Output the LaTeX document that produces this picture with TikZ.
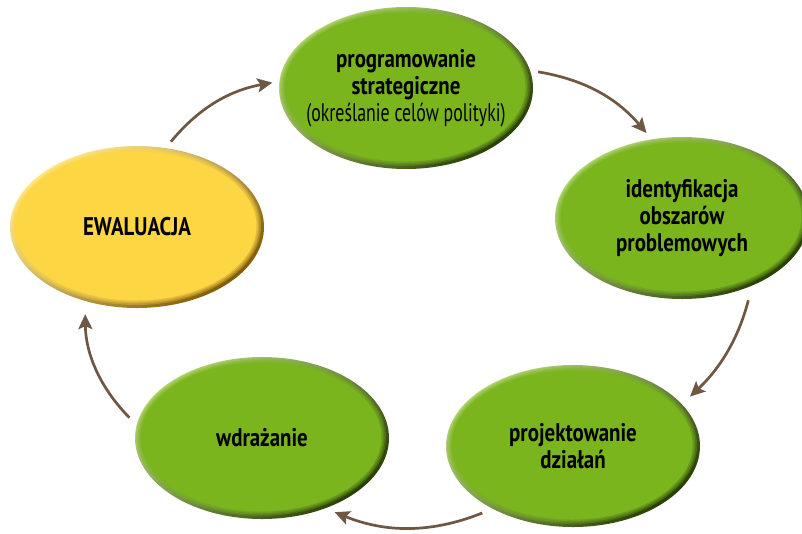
\documentclass[tikz,border=0pt]{standalone}
\usepackage{fontspec}
\setmainfont[FakeStretch=0.82]{PT Sans}
\newfontfamily\parfont[FakeStretch=0.70]{PT Sans}
\usetikzlibrary{shapes.geometric,arrows.meta}
\definecolor{gmain}{RGB}{122,181,30}
\definecolor{gdark}{RGB}{40,64,4}
\definecolor{glight}{RGB}{190,220,135}
\definecolor{ymain}{RGB}{253,214,68}
\definecolor{ydark}{RGB}{130,92,8}
\definecolor{ylight}{RGB}{254,238,160}
\definecolor{arr}{RGB}{110,88,68}
\tikzset{
  bubble/.style n args={3}{ellipse, minimum width=254pt, minimum height=162pt,
    inner sep=-30pt, align=center,
    font=\fontsize{25.5}{27}\selectfont\bfseries,
    top color=#2, bottom color=#3, shading angle=40,
    path picture={
      \fill[#1,opacity=0.3] ([xshift=-1pt,yshift=1pt]path picture bounding box.center) ellipse [x radius=125pt, y radius=79pt];
      \fill[#1,opacity=0.35] ([xshift=-1pt,yshift=1pt]path picture bounding box.center) ellipse [x radius=123.5pt, y radius=77.5pt];
      \fill[#1,opacity=0.45] ([xshift=-1pt,yshift=1pt]path picture bounding box.center) ellipse [x radius=122pt, y radius=76pt];
      \fill[#1] ([xshift=-1pt,yshift=1pt]path picture bounding box.center) ellipse [x radius=120.5pt, y radius=74.5pt];
    }},
  link/.style={draw=arr, line width=2.7pt,
    -{Stealth[length=15pt,width=14pt,inset=3pt]}}
}
\begin{document}
\begin{tikzpicture}[x=1pt,y=1pt]
\useasboundingbox (0,0) rectangle (802,-533);
\node[bubble={ymain}{ylight}{ydark}] (ewa) at (137,-227) {EWALUACJA};
\node[bubble={gmain}{glight}{gdark}] (prog) at (406,-88)
  {programowanie\\strategiczne\\{\parfont\mdseries(określanie celów polityki)}};
\node[bubble={gmain}{glight}{gdark}] (ident) at (682,-218)
  {identyfikacja\\obszarów\\problemowych};
\node[bubble={gmain}{glight}{gdark}] (proj) at (573,-446)
  {projektowanie\\działań};
\node[bubble={gmain}{glight}{gdark}] (wdr) at (262,-438) {wdrażanie};
\draw[link, shorten <=8pt, shorten >=7pt] (ewa.70) to[bend left=20] (prog.177);
\draw[link, shorten <=8pt, shorten >=8pt] (prog.8) to[bend left=20] (ident.111);
\draw[link, shorten <=15pt, shorten >=11pt] (ident.-44) to[bend left=16] (proj.21);
\draw[link, shorten <=11pt, shorten >=10pt] (proj.-142) to[bend left=22] (wdr.-48);
\draw[link, shorten <=10pt, shorten >=13pt] (wdr.174) to[bend left=22] (ewa.-125);
\end{tikzpicture}
\end{document}
